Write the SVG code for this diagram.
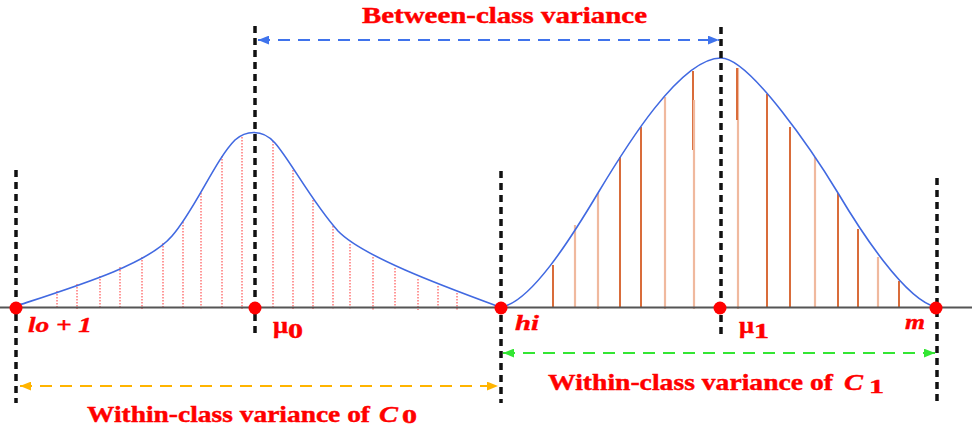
<svg xmlns="http://www.w3.org/2000/svg" width="972" height="428" viewBox="0 0 972 428">
<defs>
<style>
.vdash{stroke:#111;stroke-width:3.5;stroke-dasharray:7 5;fill:none}
.curve{fill:none;stroke:#4169e1;stroke-width:1.6}
.hl{stroke:#ff3030;stroke-width:1;stroke-dasharray:1.5 1.5}
.hd{stroke:#d96c3a;stroke-width:2}
.hlt{stroke:#f0b99e;stroke-width:2.2}
.dot{fill:#ff0000}
.lbl{font-family:"Liberation Serif","Times New Roman",serif;font-weight:bold;fill:#ff0000;stroke:#ff0000;stroke-width:0.4}
.it{font-style:italic}
.arr{fill:none;stroke-width:2.2;stroke-dasharray:12 8}
</style>
<marker id="mb" viewBox="0 0 10 8" refX="10" refY="4" markerWidth="11" markerHeight="9" markerUnits="userSpaceOnUse" orient="auto-start-reverse"><path d="M0,0 L10,4 L0,8 Z" fill="#3f73ec"/></marker>
<marker id="mo" viewBox="0 0 10 8" refX="10" refY="4" markerWidth="11" markerHeight="9" markerUnits="userSpaceOnUse" orient="auto-start-reverse"><path d="M0,0 L10,4 L0,8 Z" fill="#ffb400"/></marker>
<marker id="mg" viewBox="0 0 10 8" refX="10" refY="4" markerWidth="11" markerHeight="9" markerUnits="userSpaceOnUse" orient="auto-start-reverse"><path d="M0,0 L10,4 L0,8 Z" fill="#33e633"/></marker>
</defs>
<rect width="972" height="428" fill="#fff"/>

<g id="hatch-c0">
<line class="hl" x1="57" y1="291" x2="57" y2="309"/>
<line class="hl" x1="77" y1="284" x2="77" y2="309"/>
<line class="hl" x1="100" y1="276" x2="100" y2="309"/>
<line class="hl" x1="120" y1="267" x2="120" y2="309"/>
<line class="hl" x1="142" y1="257" x2="142" y2="309"/>
<line class="hl" x1="163" y1="243" x2="163" y2="309"/>
<line class="hl" x1="183" y1="222" x2="183" y2="309"/>
<line class="hl" x1="201" y1="193" x2="201" y2="309"/>
<line class="hl" x1="222" y1="156" x2="222" y2="309"/>
<line class="hl" x1="242" y1="137" x2="242" y2="309"/>
<line class="hl" x1="273" y1="141" x2="273" y2="309"/>
<line class="hl" x1="293" y1="170" x2="293" y2="309"/>
<line class="hl" x1="313" y1="200" x2="313" y2="309"/>
<line class="hl" x1="333" y1="226" x2="333" y2="310"/>
<line class="hl" x1="350" y1="244" x2="350" y2="310"/>
<line class="hl" x1="373" y1="257" x2="373" y2="310"/>
<line class="hl" x1="395" y1="268" x2="395" y2="310"/>
<line class="hl" x1="418" y1="279" x2="418" y2="310"/>
<line class="hl" x1="438" y1="286" x2="438" y2="310"/>
<line class="hl" x1="457" y1="293" x2="457" y2="310"/>
</g>

<g id="hatch-c1">
<line class="hd" x1="553" y1="265" x2="553" y2="307"/>
<line class="hlt" x1="575" y1="225" x2="575" y2="307"/>
<line class="hlt" x1="598" y1="193" x2="598" y2="309"/>
<line class="hd" x1="620" y1="157" x2="620" y2="307"/>
<line class="hd" x1="641" y1="127" x2="641" y2="307"/>
<line class="hlt" x1="665" y1="97" x2="665" y2="309"/>
<line class="hd" x1="693" y1="71" x2="693" y2="150"/>
<line class="hlt" x1="694" y1="100" x2="694" y2="309"/>
<line class="hlt" x1="738" y1="68" x2="738" y2="309"/>
<line class="hd" x1="737" y1="68" x2="737" y2="120"/>
<line class="hd" x1="767" y1="94" x2="767" y2="307"/>
<line class="hd" x1="790" y1="127" x2="790" y2="307"/>
<line class="hlt" x1="815" y1="157" x2="815" y2="307"/>
<line class="hd" x1="838" y1="193" x2="838" y2="307"/>
<line class="hd" x1="858" y1="229" x2="858" y2="307"/>
<line class="hlt" x1="878" y1="257" x2="878" y2="307"/>
<line class="hd" x1="899" y1="281" x2="899" y2="307"/>
</g>

<g id="axis"><line x1="0" y1="307.5" x2="972" y2="307.5" stroke="#555" stroke-width="2"/></g>

<g id="curves">
<path class="curve" d="M16,306 C80,285 148,264 172,236 C195,210 215,160 235,140 C245,131 262,128 275,143 C290,160 312,202 338,231 C362,256 440,285 497,306"/>
<path class="curve" d="M501,307 C530,303 570,240 598,193 C625,148 680,58 721,58 C750,58 815,155 838,193 C860,230 905,300 936,307"/>
</g>

<g id="dividers">
<line class="vdash" x1="16" y1="170" x2="16" y2="403"/>
<line class="vdash" x1="255" y1="26" x2="255" y2="338"/>
<line class="vdash" x1="501" y1="171" x2="501" y2="403"/>
<line class="vdash" x1="721" y1="27" x2="721" y2="339"/>
<line class="vdash" x1="937" y1="178" x2="937" y2="405"/>
</g>

<g id="connectors">
<line class="arr" x1="258" y1="40" x2="719" y2="40" stroke="#3f73ec" marker-start="url(#mb)" marker-end="url(#mb)"/>
<line class="arr" x1="503" y1="353" x2="935" y2="353" stroke="#33e633" marker-start="url(#mg)" marker-end="url(#mg)"/>
<line class="arr" x1="20" y1="386" x2="498" y2="386" stroke="#ffb400" marker-start="url(#mo)" marker-end="url(#mo)"/>
</g>

<g id="points">
<circle class="dot" cx="16" cy="308" r="6.5"/>
<circle class="dot" cx="255" cy="308" r="6.5"/>
<circle class="dot" cx="501" cy="308" r="6.5"/>
<circle class="dot" cx="720" cy="308" r="6.5"/>
<circle class="dot" cx="936" cy="308" r="6.5"/>
</g>

<g id="labels">
<text class="lbl" x="362" y="23" font-size="22.5" textLength="285" lengthAdjust="spacingAndGlyphs">Between-class variance</text>
<text class="lbl it" x="28" y="332" font-size="21.5" textLength="64" lengthAdjust="spacingAndGlyphs">lo + 1</text>
<text class="lbl" x="273" y="333" font-size="24" textLength="15" lengthAdjust="spacingAndGlyphs">μ</text>
<text class="lbl" x="288" y="338" font-size="20" textLength="15" lengthAdjust="spacingAndGlyphs">0</text>
<text class="lbl it" x="515" y="330" font-size="21.5" textLength="24" lengthAdjust="spacingAndGlyphs">hi</text>
<text class="lbl" x="739" y="333" font-size="24" textLength="15" lengthAdjust="spacingAndGlyphs">μ</text>
<text class="lbl" x="754" y="338" font-size="20" textLength="15" lengthAdjust="spacingAndGlyphs">1</text>
<text class="lbl it" x="905" y="329" font-size="21.5" textLength="20" lengthAdjust="spacingAndGlyphs">m</text>
<text class="lbl" x="548" y="390" font-size="22.5" textLength="285" lengthAdjust="spacingAndGlyphs">Within-class variance of</text>
<text class="lbl it" x="844" y="390" font-size="22.5" textLength="19" lengthAdjust="spacingAndGlyphs">C</text>
<text class="lbl" x="869" y="393" font-size="18" textLength="15" lengthAdjust="spacingAndGlyphs">1</text>
<text class="lbl" x="87" y="422" font-size="22.5" textLength="283" lengthAdjust="spacingAndGlyphs">Within-class variance of</text>
<text class="lbl it" x="379" y="422" font-size="22.5" textLength="19" lengthAdjust="spacingAndGlyphs">C</text>
<text class="lbl" x="402" y="423" font-size="18" textLength="15" lengthAdjust="spacingAndGlyphs">0</text>
</g>
</svg>
